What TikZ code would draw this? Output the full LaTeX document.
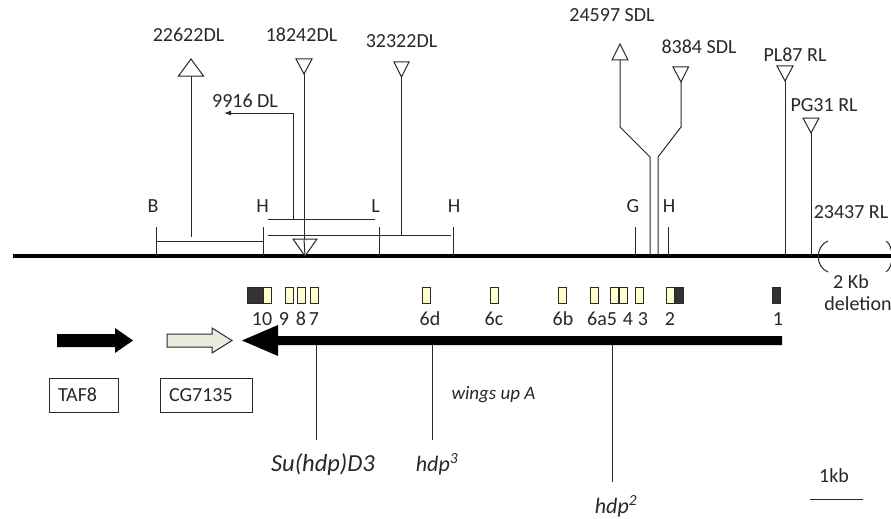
\documentclass[tikz,border=0pt]{standalone}
\usepackage{fontspec}
\setmainfont{Carlito}
\usetikzlibrary{arrows.meta}
\definecolor{exonlight}{RGB}{255,255,204}
\definecolor{exondark}{RGB}{51,51,51}
\definecolor{cgfill}{RGB}{236,235,224}
\definecolor{ink}{RGB}{40,40,40}
\begin{document}
\begin{tikzpicture}[x=1pt,y=-1pt,
  thin/.style={line width=1pt, draw=ink},
  lbl/.style={font=\fontsize{20}{24}\selectfont, text=ink, inner sep=0pt, anchor=base},
  ilbl/.style={font=\fontsize{22}{26}\selectfont\itshape, text=ink, inner sep=0pt, anchor=base},
  tri/.style={draw=ink, fill=white, line width=1pt, line join=miter},
  exonL/.style={draw=ink, fill=exonlight, line width=0.8pt},
  exonD/.style={draw=ink, fill=exondark, line width=0.8pt},
  genebox/.style={draw=ink, line width=1pt, font=\fontsize{20}{24}\selectfont, text=ink,
     minimum height=34pt, inner xsep=9pt, align=left}]
\useasboundingbox (0,0) rectangle (891,519);
\fill[white] (0,0) rectangle (891,519);

% ---------- chromosome line ----------
\coordinate (chrL) at (13,256);
\coordinate (chrR) at (891,256);
\draw[line width=4pt, black] (chrL) -- (chrR);

% ---------- restriction sites ----------
\node[lbl] (B1) at (153,212) {B};
\node[lbl] (H1) at (262.5,212) {H};
\node[lbl] (L1) at (375.5,212) {L};
\node[lbl] (H2) at (454,212) {H};
\node[lbl] (G1) at (633,212) {G};
\node[lbl] (H3) at (669,212) {H};
\foreach \x in {156,263,379,453,635,668}{
  \draw[thin] (\x,227) -- (\x,256);
}
% fragments
\draw[thin] (156,241) -- (263,241);
\draw[thin] (268,219) -- (375,219);
\draw[thin] (268,235) -- (451,235);

% ---------- 22622DL ----------
\node[lbl] (n22622) at (188.5,42) {22622DL};
\draw[thin] (191,237) -- (191,76);
\draw[tri] (191,59) -- (178.5,76) -- (203.5,76) -- cycle;

% ---------- 18242DL ----------
\node[lbl] (n18242) at (301.5,42) {18242DL};
\draw[thin] (304,74) -- (304,256);
\draw[tri] (296,59) -- (312,59) -- (304,74) -- cycle;
\draw[tri] (293,239) -- (317,239) -- (305,256) -- cycle;
\draw[thin] (304,239) -- (305,256);

% ---------- 32322DL ----------
\node[lbl] (n32322) at (401.5,48) {32322DL};
\draw[thin] (401.5,77) -- (401.5,235);
\draw[tri] (394,62) -- (409,62) -- (401.5,77) -- cycle;

% ---------- 9916 DL ----------
\node[lbl] (n9916) at (245,107) {9916 DL};
\coordinate (a9916) at (224,113);
\draw[thin, -{Latex[length=7pt,width=5pt]}] (293,219) -- (293,113) -- (a9916);

% ---------- 24597 SDL ----------
\node[lbl] (n24597) at (612,22) {24597 SDL};
\draw[thin] (620,60) -- (620,127) -- (650,157) -- (650,256);
\draw[tri] (620,44) -- (612,60) -- (628,60) -- cycle;

% ---------- 8384 SDL ----------
\node[lbl] (n8384) at (699,53) {8384 SDL};
\draw[thin] (681,82) -- (681,127) -- (658,157) -- (658,256);
\draw[tri] (673,67) -- (688.5,67) -- (681,82) -- cycle;

% ---------- PL87 RL ----------
\node[lbl] (nPL87) at (795,62) {PL87 RL};
\draw[thin] (785,81) -- (785,256);
\draw[tri] (777,66) -- (793,66) -- (785,81) -- cycle;

% ---------- PG31 RL ----------
\node[lbl] (nPG31) at (824,111) {PG31 RL};
\draw[thin] (811,133) -- (811,256);
\draw[tri] (803,118) -- (819,118) -- (811,133) -- cycle;

% ---------- 23437 RL / deletion ----------
\node[lbl] (n23437) at (851,218) {23437 RL};
\draw[thin] (828,241) .. controls (815,246) and (815,267) .. (828,272);
\draw[thin] (886,241) .. controls (894,246) and (894,267) .. (886,272);
\node[lbl] (kb2) at (851,288) {2 Kb};
\node[lbl] (del) at (858,310) {deletion};

% ---------- exons ----------
\draw[exonD] (247,287) rectangle (263,303);
\draw[exonL] (263,287) rectangle (271,303);
\foreach \a in {285,297,310,422,490,558,590,610,619,635,666}{
  \draw[exonL] (\a,287) rectangle ++(8,16);
}
\draw[exonD] (674,287) rectangle (683,303);
\draw[exonD] (772,287) rectangle (780,303);
\foreach \lab/\x in {10/262,9/284,8/301,7/314,6d/430,6c/494,6b/563,6a/597,5/612,4/628,3/643,2/670,1/778}{
  \node[lbl] (ex\lab) at (\x,325) {\lab};
}

% ---------- genes ----------
\fill[black] (782,336) -- (278,336) -- (278,325) -- (242,340.5) -- (278,356) -- (278,345) -- (782,345) -- cycle;
\fill[black] (57,334) -- (115,334) -- (115,328) -- (133,340.5) -- (115,353) -- (115,347) -- (57,347) -- cycle;
\draw[fill=cgfill, draw=ink, line width=1pt, line join=miter]
  (167,334) -- (212,334) -- (212,328) -- (232,340.5) -- (212,353) -- (212,347) -- (167,347) -- cycle;

\node[genebox, text width=51pt] (taf8) at (83.5,395) {TAF8};
\node[genebox, text width=74pt] (cg) at (206,395) {CG7135};

\node[lbl, font=\fontsize{19}{22}\selectfont\itshape] (wua) at (493.5,399) {wings up A};

% ---------- alleles ----------
\coordinate (suTop) at (316,345);
\coordinate (suBot) at (316,440);
\draw[thin] (suTop) -- (suBot);
\node[ilbl, font=\fontsize{24.5}{28}\selectfont\itshape] (su) at (323,471) {Su(hdp)D3};

\coordinate (h3Top) at (432,345);
\coordinate (h3Bot) at (432,440);
\draw[thin] (h3Top) -- (h3Bot);
\node[ilbl] (hdp3) at (437,471) {hdp\textsuperscript{3}};

\coordinate (h2Top) at (612,345);
\coordinate (h2Bot) at (612,482);
\draw[thin] (h2Top) -- (h2Bot);
\node[ilbl] (hdp2) at (616,513) {hdp\textsuperscript{2}};

% ---------- scale ----------
\node[lbl] (kb) at (834,482) {1kb};
\coordinate (sbL) at (810,499);
\coordinate (sbR) at (863,499);
\draw[thin] (sbL) -- (sbR);
\end{tikzpicture}
\end{document}
